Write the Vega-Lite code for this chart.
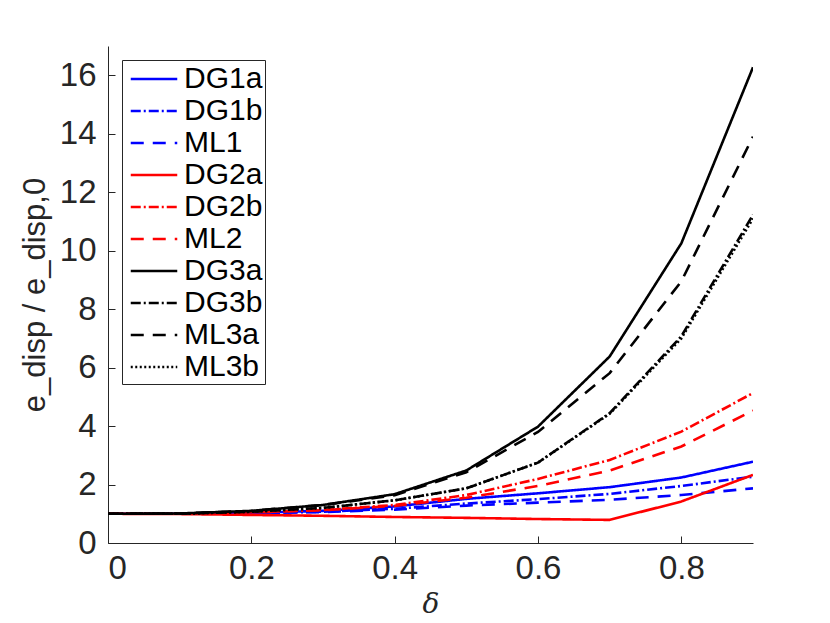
{
  "$schema": "https://vega.github.io/schema/vega-lite/v6.json",
  "width": 645,
  "height": 497,
  "autosize": {"type": "none"},
  "padding": {"left": 108, "top": 46, "right": 77, "bottom": 80},
  "background": "white",
  "data": {
    "values": [
      {"d": 0.0, "DG1a": 1.0, "DG1b": 1.0, "ML1": 1.0, "DG2a": 1.0, "DG2b": 1.0, "ML2": 1.0, "DG3a": 1.0, "DG3b": 1.0, "ML3a": 1.0, "ML3b": 1.0},
      {"d": 0.1, "DG1a": 1.0, "DG1b": 1.0, "ML1": 1.0, "DG2a": 0.99, "DG2b": 1.0, "ML2": 1.0, "DG3a": 1.01, "DG3b": 1.0, "ML3a": 1.01, "ML3b": 1.0},
      {"d": 0.2, "DG1a": 1.03, "DG1b": 1.02, "ML1": 1.02, "DG2a": 0.96, "DG2b": 1.05, "ML2": 1.05, "DG3a": 1.1, "DG3b": 1.07, "ML3a": 1.1, "ML3b": 1.07},
      {"d": 0.3, "DG1a": 1.1, "DG1b": 1.07, "ML1": 1.06, "DG2a": 0.93, "DG2b": 1.13, "ML2": 1.12, "DG3a": 1.3, "DG3b": 1.2, "ML3a": 1.3, "ML3b": 1.2},
      {"d": 0.4, "DG1a": 1.25, "DG1b": 1.17, "ML1": 1.14, "DG2a": 0.89, "DG2b": 1.3, "ML2": 1.27, "DG3a": 1.67, "DG3b": 1.46, "ML3a": 1.63, "ML3b": 1.46},
      {"d": 0.5, "DG1a": 1.51, "DG1b": 1.35, "ML1": 1.28, "DG2a": 0.86, "DG2b": 1.64, "ML2": 1.55, "DG3a": 2.48, "DG3b": 1.87, "ML3a": 2.42, "ML3b": 1.87},
      {"d": 0.6, "DG1a": 1.7, "DG1b": 1.5, "ML1": 1.38, "DG2a": 0.82, "DG2b": 2.19, "ML2": 1.95, "DG3a": 3.98, "DG3b": 2.75, "ML3a": 3.8, "ML3b": 2.75},
      {"d": 0.7, "DG1a": 1.91, "DG1b": 1.68, "ML1": 1.48, "DG2a": 0.79, "DG2b": 2.84, "ML2": 2.48, "DG3a": 6.38, "DG3b": 4.44, "ML3a": 5.81, "ML3b": 4.42},
      {"d": 0.8, "DG1a": 2.24, "DG1b": 1.95, "ML1": 1.64, "DG2a": 1.42, "DG2b": 3.81, "ML2": 3.3, "DG3a": 10.25, "DG3b": 7.07, "ML3a": 8.95, "ML3b": 7.0},
      {"d": 0.9, "DG1a": 2.78, "DG1b": 2.27, "ML1": 1.87, "DG2a": 2.33, "DG2b": 5.13, "ML2": 4.53, "DG3a": 16.27, "DG3b": 11.23, "ML3a": 13.9, "ML3b": 11.1}
    ]
  },
  "transform": [
    {"fold": ["DG1a", "DG1b", "ML1", "DG2a", "DG2b", "ML2", "DG3a", "DG3b", "ML3a", "ML3b"], "as": ["series", "value"]}
  ],
  "mark": {"type": "line", "strokeWidth": 2.6, "clip": true},
  "encoding": {
    "x": {
      "field": "d",
      "type": "quantitative",
      "title": "δ",
      "scale": {"domain": [0, 0.9], "nice": false, "zero": false},
      "axis": {"values": [0, 0.2, 0.4, 0.6, 0.8], "format": "~g", "titleFont": "DejaVu Serif", "titleFontStyle": "italic", "titleFontWeight": "normal", "titleFontSize": 28, "titlePadding": 5}
    },
    "y": {
      "field": "value",
      "type": "quantitative",
      "title": "e_disp / e_disp,0",
      "scale": {"domain": [0, 17], "nice": false},
      "axis": {"values": [0, 2, 4, 6, 8, 10, 12, 14, 16], "titleFontSize": 31, "titleFontWeight": "normal", "titlePadding": 8}
    },
    "color": {
      "field": "series",
      "type": "nominal",
      "scale": {
        "domain": ["DG1a", "DG1b", "ML1", "DG2a", "DG2b", "ML2", "DG3a", "DG3b", "ML3a", "ML3b"],
        "range": ["#0000ff", "#0000ff", "#0000ff", "#ff0000", "#ff0000", "#ff0000", "#000000", "#000000", "#000000", "#000000"]
      },
      "legend": {"title": null}
    },
    "strokeDash": {
      "field": "series",
      "type": "nominal",
      "scale": {
        "domain": ["DG1a", "DG1b", "ML1", "DG2a", "DG2b", "ML2", "DG3a", "DG3b", "ML3a", "ML3b"],
        "range": [[1, 0], [10, 3, 2, 3], [13, 9], [1, 0], [10, 3, 2, 3], [13, 9], [1, 0], [10, 3, 2, 3], [13, 9], [2, 2.5]]
      },
      "legend": {"title": null}
    }
  },
  "config": {
    "font": "Liberation Sans",
    "view": {"stroke": null},
    "axis": {
      "grid": false,
      "domainColor": "#262626",
      "domainWidth": 1,
      "tickColor": "#262626",
      "tickSize": -7,
      "tickWidth": 1,
      "labelColor": "#262626",
      "labelFontSize": 33,
      "labelFont": "Liberation Sans",
      "titleColor": "#262626",
      "titleFont": "Liberation Sans"
    },
    "axisX": {"labelPadding": 16},
    "axisY": {"labelPadding": 19},
    "legend": {
      "orient": "top-left",
      "offset": 14,
      "labelFontSize": 30,
      "labelColor": "#000000",
      "labelFont": "Liberation Sans",
      "symbolType": "M-1.5,0H1.5",
      "symbolSize": 961,
      "symbolStrokeWidth": 2.6,
      "symbolOffset": 13,
      "rowPadding": 0,
      "labelOffset": 13,
      "padding": 2,
      "strokeColor": "#262626",
      "fillColor": "white",
      "cornerRadius": 0
    }
  }
}
